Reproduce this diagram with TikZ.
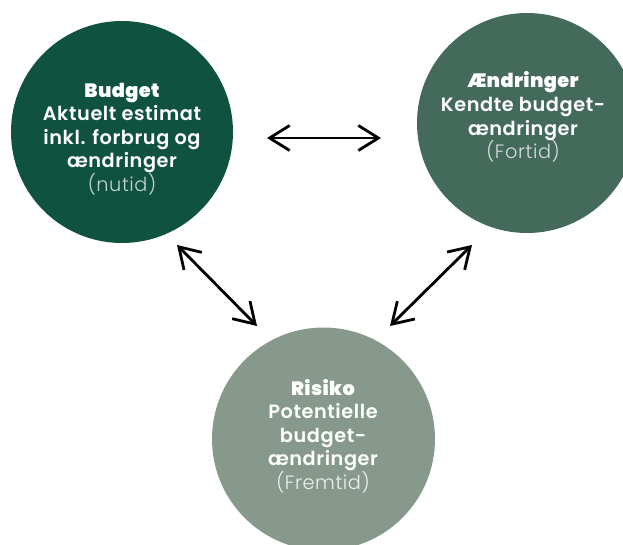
\documentclass[tikz,border=0pt]{standalone}
\usepackage{fontspec}
\setmainfont{Poppins}[UprightFont=* Medium, BoldFont=* Black]
\newfontfamily\headfont{Poppins}[UprightFont=* Black, LetterSpace=2]
\newfontfamily\bodyfont{Poppins}[UprightFont=* SemiBold, LetterSpace=3]
\newfontfamily\notefont{Poppins}[UprightFont=* Light, LetterSpace=3]
\usetikzlibrary{arrows.meta}
\definecolor{nowgreen}{HTML}{0F5240}
\definecolor{pastgreen}{HTML}{436A5A}
\definecolor{futuregreen}{HTML}{86998C}
\tikzset{
  phase/.style={circle, draw=none, minimum size=#1, inner sep=0pt},
  phasetext/.style={text=white, align=center, font=\fontsize{19.3}{23.6}\bodyfont},
  linkarrow/.style={draw=black, line width=2.8pt, line cap=round,
    {Straight Barb[length=20pt,width=25pt,line width=2.8pt]}-{Straight Barb[length=20pt,width=25pt,line width=2.8pt]}}
}
\newcommand{\hd}[1]{{\headfont #1}}
\newcommand{\nt}[2]{{\notefont\color{#1}#2}}
\begin{document}
\begin{tikzpicture}[x=1pt,y=-1pt]
  \useasboundingbox (0,0) rectangle (623,544);
  \clip (0,0) rectangle (623,544);

  % three phase circles
  \node[phase=222pt, fill=nowgreen]    (budget)   at (122,132) {};
  \node[phase=220pt, fill=pastgreen]   (changes)  at (527,123) {};
  \node[phase=223pt, fill=futuregreen] (risk)     at (323.5,439) {};

  % labels
  \node[phasetext] (budgetlabel) at (122,139)
    {\hd{Budget}\\Aktuelt estimat\\inkl. forbrug og\\ændringer\\\nt{white!75!nowgreen}{(nutid)}};
  \node[phasetext] (changeslabel) at (523,117)
    {\hd{Ændringer}\\Kendte budget-\\ændringer\\\nt{white!78!pastgreen}{(Fortid)}};
  \node[phasetext] (risklabel) at (323,436)
    {\hd{Risiko}\\Potentielle\\budget-\\ændringer\\\nt{white!85!futuregreen}{(Fremtid)}};

  % arrow end points
  \coordinate (bc1) at (267,138);
  \coordinate (bc2) at (381,138);
  \coordinate (br1) at (177,245);
  \coordinate (br2) at (257,326);
  \coordinate (cr1) at (472,245);
  \coordinate (cr2) at (390,326);

  \draw[linkarrow] (bc1) -- (bc2);
  \draw[linkarrow] (br1) -- (br2);
  \draw[linkarrow] (cr1) -- (cr2);
\end{tikzpicture}
\end{document}
